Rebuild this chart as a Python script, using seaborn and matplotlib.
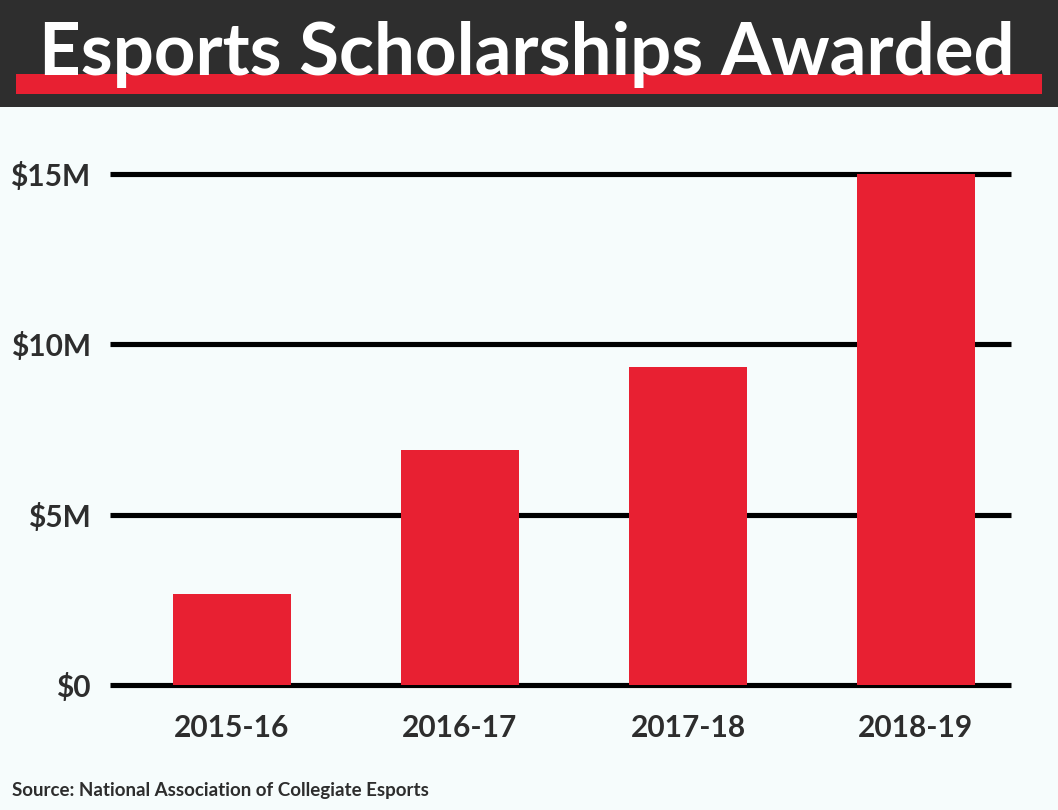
import matplotlib
matplotlib.use("Agg")
import matplotlib.pyplot as plt
import seaborn as sns
import pandas as pd
from matplotlib.patches import Rectangle

seasons = ["2015-16", "2016-17", "2017-18", "2018-19"]
scholarships_musd = [2.67, 6.90, 9.33, 15.0]
y_ticks = [0, 5, 10, 15]
y_tick_labels = ["$0", "$5M", "$10M", "$15M"]
title_text = "Esports Scholarships Awarded"
source_text = "Source: National Association of Collegiate Esports"

RED = "#e82032"
DARK = "#2e2e2e"
BG = "#f6fcfc"
TXT = "#2d2d2d"

sns.set_theme(style="white")
plt.rcParams["font.family"] = ["Lato", "DejaVu Sans"]

W, H = 1058, 810
fig = plt.figure(figsize=(W / 100, H / 100), dpi=100, facecolor=BG)

def fx(px):
    return px / W

def fy(py):
    return (H - py) / H

# header band + red stripe
fig.patches.append(Rectangle((0, fy(107)), 1, 107 / H, transform=fig.transFigure,
                             facecolor=DARK, edgecolor="none", zorder=0))
fig.patches.append(Rectangle((fx(16), fy(94)), fx(1042) - fx(16), 20 / H,
                             transform=fig.transFigure, facecolor=RED,
                             edgecolor="none", zorder=1))

ax_left, ax_right = 110, 1011
ax_top, ax_bottom = 173.5, 685.2
ax = fig.add_axes([fx(ax_left), fy(ax_bottom), fx(ax_right) - fx(ax_left),
                   (ax_bottom - ax_top) / H])
ax.set_facecolor("none")

df = pd.DataFrame({"season": seasons, "value": scholarships_musd})
sns.barplot(data=df, x="season", y="value", color=RED, saturation=1,
            width=0.518, ax=ax, zorder=3)
for p in ax.patches:
    p.set_zorder(3)
    p.set_edgecolor("none")

for yv in y_ticks:
    ax.axhline(yv, color="black", lw=3.7, zorder=1, clip_on=False,
               solid_capstyle="butt")

ax.set_ylim(0, 15)
ax.set_xlim(-0.535, 3.417)
ax.set_yticks(y_ticks)
ax.set_yticklabels(y_tick_labels)
ax.set_xlabel("")
ax.set_ylabel("")
for s in ax.spines.values():
    s.set_visible(False)
ax.tick_params(axis="y", length=0, pad=14, labelsize=21.5, labelcolor=TXT)
ax.tick_params(axis="x", length=0, pad=21, labelsize=21.5, labelcolor=TXT)
for lab in ax.get_xticklabels() + ax.get_yticklabels():
    lab.set_fontweight("bold")

# title
t = fig.text((fx(38) + fx(1015)) / 2, fy(75), title_text, color="white",
             fontsize=50, fontweight="bold", ha="center", va="baseline", zorder=5)
src = fig.text(fx(12), fy(795.7), source_text, color=TXT, fontsize=11,
               fontweight="bold", ha="left", va="baseline")

fig.canvas.draw()
r = fig.canvas.get_renderer()
bw = t.get_window_extent(r).width
t.set_fontsize(50 * (1015 - 38) / bw)
sw = src.get_window_extent(r).width
src.set_fontsize(11 * (429 - 12) / sw)

fig.savefig("out.png", dpi=100, facecolor=BG)
